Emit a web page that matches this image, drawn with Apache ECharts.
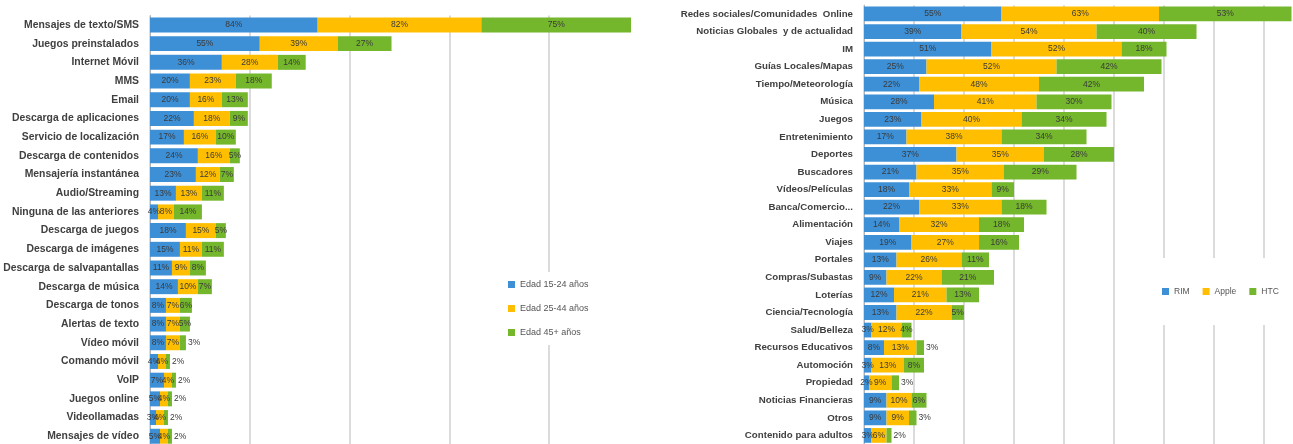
<!DOCTYPE html>
<html>
<head>
<meta charset="utf-8">
<script src="https://cdn.jsdelivr.net/npm/echarts@6/dist/echarts.min.js"></script>
<style>html,body{margin:0;padding:0;background:#fff;}#c{width:1293px;height:444px;}</style>
</head>
<body>
<div id="c"></div>
<script>
// ---- Left chart data (uso por edad) ----
const leftCats = ["Mensajes de texto/SMS","Juegos preinstalados","Internet Móvil","MMS","Email","Descarga de aplicaciones","Servicio de localización","Descarga de contenidos","Mensajería instantánea","Audio/Streaming","Ninguna de las anteriores","Descarga de juegos","Descarga de imágenes","Descarga de salvapantallas","Descarga de música","Descarga de tonos","Alertas de texto","Vídeo móvil","Comando móvil","VoIP","Juegos online","Videollamadas","Mensajes de vídeo"];
const edad1524 = [84,55,36,20,20,22,17,24,23,13,4,18,15,11,14,8,8,8,4,7,5,3,5];
const edad2544 = [82,39,28,23,16,18,16,16,12,13,8,15,11,9,10,7,7,7,4,4,4,4,4];
const edad45 =   [75,27,14,18,13,9,10,5,7,11,14,5,11,8,7,6,5,3,2,2,2,2,2];
const leftNames = ["Edad 15-24 años","Edad 25-44 años","Edad 45+ años"];

// ---- Right chart data (por fabricante) ----
const rightCats = ["Redes sociales/Comunidades  Online","Noticias Globales  y de actualidad","IM","Guías Locales/Mapas","Tiempo/Meteorología","Música","Juegos","Entretenimiento","Deportes","Buscadores","Vídeos/Películas","Banca/Comercio...","Alimentación","Viajes","Portales","Compras/Subastas","Loterías","Ciencia/Tecnología","Salud/Belleza","Recursos Educativos","Automoción","Propiedad","Noticias Financieras","Otros","Contenido para adultos"];
const rim =   [55,39,51,25,22,28,23,17,37,21,18,22,14,19,13,9,12,13,3,8,3,2,9,9,3];
const apple = [63,54,52,52,48,41,40,38,35,35,33,33,32,27,26,22,21,22,12,13,13,9,10,9,6];
const htc =   [53,40,18,42,42,30,34,34,28,29,9,18,18,16,11,21,13,5,4,3,8,3,6,3,2];
const rightNames = ["RIM","Apple","HTC"];

const BLUE = '#3d8fd6', YELLOW = '#ffbf00', GREEN = '#74b62c';
const FONT = 'Liberation Sans';

function labelled(vals, outsideMax) {
  return vals.map(v => {
    if (outsideMax && v <= outsideMax) {
      return { value: v, label: { position: 'right', distance: 2 } };
    }
    return v;
  });
}
function series(name, vals, color, idx, stack, gap, outsideMax) {
  return {
    name, type: 'bar', stack, xAxisIndex: idx, yAxisIndex: idx,
    data: labelled(vals, outsideMax),
    barCategoryGap: gap,
    itemStyle: { color },
    label: { show: true, position: 'inside', formatter: '{c}%', fontSize: 8.5, color: '#3a3a3a', fontFamily: FONT },
    emphasis: { disabled: true }
  };
}

const valueAxis = (idx, max, interval) => ({
  type: 'value', gridIndex: idx, min: 0, max, interval,
  axisLabel: { show: false }, axisLine: { show: false }, axisTick: { show: false },
  splitLine: { show: true, showMaxLine: false, lineStyle: { color: '#cfcfcf', width: 1.5 } }
});
const catAxis = (idx, cats, fs) => ({
  type: 'category', gridIndex: idx, data: cats, inverse: true,
  axisLine: { show: true, lineStyle: { color: '#b5b5b5', width: 1 } },
  axisTick: { show: false },
  axisLabel: { fontSize: fs, fontWeight: 'bold', color: '#404040', margin: 11, fontFamily: FONT }
});

const chart = echarts.init(document.getElementById('c'), null, { renderer: 'canvas' });
chart.setOption({
  animation: false,
  backgroundColor: '#fff',
  grid: [
    { left: 150, top: 15.6, width: 499, height: 430, containLabel: false, outerBoundsMode: 'none' },
    { left: 864, top: 5.2, width: 450, height: 439, containLabel: false, outerBoundsMode: 'none' }
  ],
  xAxis: [valueAxis(0, 250, 50), valueAxis(1, 180, 20)],
  yAxis: [catAxis(0, leftCats, 10.4), catAxis(1, rightCats, 9.7)],
  legend: [
    { data: leftNames, orient: 'vertical', left: 496, top: 272, padding: [8, 12], itemWidth: 7, itemHeight: 7, itemGap: 15,
      icon: 'rect', backgroundColor: '#fff', textStyle: { fontSize: 9, color: '#555', fontFamily: FONT }, selectedMode: false },
    { data: rightNames, orient: 'horizontal', left: 1156, top: 258, width: 200, padding: [29, 6], itemWidth: 7, itemHeight: 7, itemGap: 13,
      icon: 'rect', backgroundColor: '#fff', textStyle: { fontSize: 8.5, color: '#555', fontFamily: FONT }, selectedMode: false }
  ],
  series: [
    series(leftNames[0], edad1524, BLUE, 0, 'L', '20%'),
    series(leftNames[1], edad2544, YELLOW, 0, 'L', '20%'),
    series(leftNames[2], edad45, GREEN, 0, 'L', '20%', 3),
    series(rightNames[0], rim, BLUE, 1, 'R', '16%'),
    series(rightNames[1], apple, YELLOW, 1, 'R', '16%'),
    series(rightNames[2], htc, GREEN, 1, 'R', '16%', 3)
  ]
});
</script>
</body>
</html>
